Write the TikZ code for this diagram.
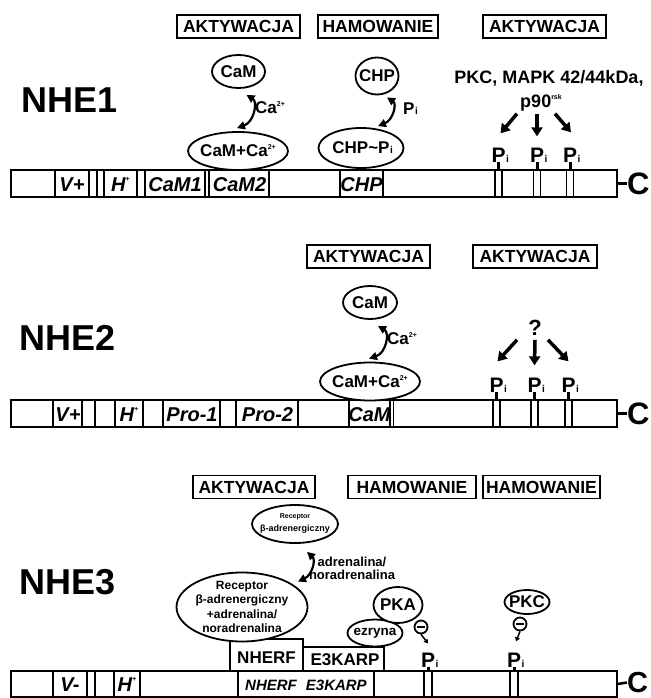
\documentclass[tikz,border=0pt]{standalone}
\usepackage{fontspec}
\setmainfont{Liberation Sans}
\usetikzlibrary{shapes.geometric,arrows.meta,calc}

\newcommand{\fs}[1]{\fontsize{#1}{#1}\selectfont}
% P with a small subscript i, centred on the P
\newcommand{\Psub}{P\rlap{\kern0.6pt\fs{10}i}}
% small raised text (charges, "rsk")
\newcommand{\supr}[2]{\raisebox{#1}{\fs{7}#2}}

\tikzset{
  xtag/.style={draw, line width=1.8pt, minimum height=23pt, inner sep=0pt, font=\fs{17.5}\bfseries},
  xell/.style={ellipse, draw, fill=white, line width=1.8pt, inner sep=0pt, font=\fs{17}\bfseries},
  xtitle/.style={font=\fs{36}\bfseries, inner sep=0pt},
  xbar/.style={draw, line width=2pt, minimum height=27pt, minimum width=606pt, inner sep=0pt},
  xseg/.style={line width=1.8pt},
  xblbl/.style={font=\fs{20}\bfseries\itshape, inner sep=0pt, text height=14.3pt, text depth=0pt},
  xp/.style={font=\fs{21}\bfseries, inner sep=0pt, anchor=base},
  xpin/.style={line width=3pt},
  xfat/.style={line width=3.5pt, -{Triangle[length=9pt,width=11pt]}},
  xdbl/.style={line width=2.2pt, {Triangle[length=8pt,width=8pt]}-{Triangle[length=8pt,width=8pt]}},
  xcterm/.style={font=\fs{31}\bfseries, inner sep=0pt, anchor=west},
  xdash/.style={line width=2.5pt},
  xtxt/.style={font=\fs{17}\bfseries, inner sep=0pt},
  xminus/.style={circle, draw, fill=white, line width=1.8pt, minimum size=13pt, inner sep=0pt},
  xsmall/.style={line width=1.5pt, -{Triangle[length=4pt,width=5pt]}},
}

\begin{document}
\begin{tikzpicture}[x=1pt,y=-1pt]
\fill[white] (0,0) rectangle (650,698);
\useasboundingbox (0,0) rectangle (650,698);

% ================= NHE1 =================
\node[xtitle] (t1) at (70,100) {NHE1};
\node[xtag, minimum width=123pt] (a11) at (238.5,26.5) {AKTYWACJA};
\node[xtag, minimum width=120pt] (h11) at (378,26.5) {HAMOWANIE};
\node[xtag, minimum width=123pt] (a12) at (544.5,26.5) {AKTYWACJA};

% protein bar
\node[xbar] (b1) at (314,183.5) {};
\foreach \x in {55,89,97,104,137,145,205,209,269,340,383,495,502,533.5,540.5,566.5,573.5}
  \draw[xseg] (\x,170) -- (\x,197);
\node[xblbl] (v1) at (72,184) {V+};
\node[xblbl] (hh1) at (120.5,184) {H\smash{\supr{0.5em}{+}}};
\node[xblbl] (cm11) at (175,184) {CaM1};
\node[xblbl] (cm12) at (239.5,184) {CaM2};
\node[xblbl] (ch1) at (361.5,184) {CHP};
\node[xcterm] (c1) at (627,183.5) {C};
\draw[xdash] (b1.east) -- (c1.west);

% calmodulin
\node[xell, minimum width=53pt, minimum height=33pt] (cam1) at (238.5,71.5) {\makebox[0pt]{CaM}};
\node[xell, minimum width=100pt, minimum height=38pt] (cc1) at (238,151) {\makebox[0pt]{CaM+Ca\smash{\supr{0.42em}{2+}}}};
\draw[xdbl] ([xshift=8pt,yshift=-6pt]cam1.south) .. controls (258,102) and (254,122) .. ([xshift=-1pt,yshift=3pt]cc1.north);
\node[xtxt, anchor=west] (ca1) at (255,108) {Ca\supr{0.42em}{2+}};

% CHP
\node[xell, minimum width=43pt, minimum height=37pt] (chp1) at (377,76) {\makebox[0pt]{CHP}};
\node[xell, minimum width=85pt, minimum height=40pt] (cp1) at (361,148) {\makebox[0pt]{CHP\textasciitilde\Psub}};
\draw[xdbl] ([xshift=10pt,yshift=-2pt]chp1.south) .. controls (397,104) and (393,120) .. ([xshift=17pt,yshift=1pt]cp1.north);
\node[xtxt, anchor=west] (pi1) at (403,109) {\Psub};

% kinases
\node[font=\fs{18}\bfseries, inner sep=0pt] (k1) at (549,78) {PKC, MAPK 42/44kDa,};
\node[font=\fs{18}\bfseries, inner sep=0pt] (k2) at (541,103) {p90\supr{0.45em}{rsk}};
\node[xp] (p11) at (498.5,162) {\Psub};
\node[xp] (p12) at (537,162) {\Psub};
\node[xp] (p13) at (570,162) {\Psub};
\draw[xfat] ([xshift=-24pt,yshift=-2pt]k2.south) -- ([xshift=2pt,yshift=14pt]p11.north);
\draw[xfat] ([yshift=-2pt]k2.south -| p12.north) -- ([yshift=11pt]p12.north);
\draw[xfat] ([xshift=14pt,yshift=-2pt]k2.south) -- ([xshift=1pt,yshift=15pt]p13.north);
\foreach \p in {p11,p12,p13}
  \draw[xpin] (\p.base) -- (\p.base |- b1.north);

% ================= NHE2 =================
\node[xtitle] (t2) at (68,338) {NHE2};
\node[xtag, minimum width=123pt] (a21) at (368.5,256.5) {AKTYWACJA};
\node[xtag, minimum width=124pt] (a22) at (535,256.5) {AKTYWACJA};

\node[xbar] (b2) at (314,413.5) {};
\foreach \x in {53,82,95,115,143,163,220,236,298,349,390,393.5,493,500,531,538,565,572}
  \draw[xseg] (\x,400) -- (\x,427);
\node[xblbl] (v2) at (68,414) {V+};
\node[xblbl] (hh2) at (129,414) {H\smash{\supr{0.5em}{+}}};
\node[xblbl] (pr1) at (192,414) {Pro-1};
\node[xblbl] (pr2) at (267.5,414) {Pro-2};
\node[xblbl] (cm2) at (369.5,414) {CaM};
\node[xcterm] (c2) at (627,413.5) {C};
\draw[xdash] (b2.east) -- (c2.west);

\node[xell, minimum width=54pt, minimum height=33pt] (cam2) at (370,302.5) {\makebox[0pt]{CaM}};
\node[xell, minimum width=100pt, minimum height=38pt] (cc2) at (370,381.5) {\makebox[0pt]{CaM+Ca\smash{\supr{0.42em}{2+}}}};
\draw[xdbl] ([xshift=8pt,yshift=-6pt]cam2.south) .. controls (390,333) and (386,353) .. ([xshift=-1pt,yshift=3pt]cc2.north);
\node[xtxt, anchor=west] (ca2) at (387,339) {Ca\supr{0.42em}{2+}};

\node[font=\fs{22}\bfseries, inner sep=0pt] (q2) at (535,328) {?};
\node[xp] (p21) at (496.5,392) {\Psub};
\node[xp] (p22) at (534.5,392) {\Psub};
\node[xp] (p23) at (568.5,392) {\Psub};
\draw[xfat] ([xshift=-18pt,yshift=-4pt]q2.south) -- ([xshift=1pt,yshift=16pt]p21.north);
\draw[xfat] ([yshift=-4pt]q2.south) -- ([yshift=12pt]p22.north);
\draw[xfat] ([xshift=13pt,yshift=-4pt]q2.south) -- ([yshift=16pt]p23.north);
\foreach \p in {p21,p22,p23}
  \draw[xpin] (\p.base) -- (\p.base |- b2.north);

% ================= NHE3 =================
\node[xtitle] (t3) at (68,582) {NHE3};
\node[xtag, minimum width=122pt] (a31) at (254,487) {AKTYWACJA};
\node[xtag, minimum width=128pt] (h31) at (412,487) {HAMOWANIE};
\node[xtag, minimum width=117pt] (h32) at (541.5,487) {HAMOWANIE};

\node[xbar, minimum height=26pt] (b3) at (314,684) {};
\foreach \x in {53,87,95,114,140,238,374,424,432,510,518}
  \draw[xseg] (\x,671) -- (\x,697);
\node[xblbl] (v3) at (70,684.5) {V-};
\node[xblbl] (hh3) at (127,684.5) {H\smash{\supr{0.5em}{+}}};
\node[font=\fs{15}\bfseries\itshape, inner sep=0pt] (ne3) at (306,685) {NHERF\hspace{0.6em}E3KARP};
\node[xcterm, font=\fs{29}\bfseries] (c3) at (627,682.5) {C};
\draw[xdash] (b3.east) -- (c3.west);

% scaffold proteins
\node[draw, line width=1.8pt, minimum width=73pt, minimum height=32pt, inner sep=0pt] (nh) at (266.5,655) {};
\node[xtxt] (nht) at (266.5,658) {NHERF};
\node[draw, line width=1.8pt, minimum width=81pt, minimum height=24pt, inner sep=0pt] (e3) at (343.5,659) {};
\node[xtxt] (e3t) at (345,660) {E3KARP};

% adrenergic receptor
\node[xell, minimum width=86pt, minimum height=38pt] (rec) at (295,524) {};
\node[align=center, inner sep=0pt, font=\bfseries] (rect) at (rec.center) {\fs{7}Receptor\\[1pt]\fs{9}β-adrenergiczny};
\node[xell, minimum width=131pt, minimum height=69pt] (recb) at (242,607) {};
\node[align=center, font=\fontsize{12}{14.5}\selectfont\bfseries, inner sep=0pt] (recbt) at (242,607) {Receptor\\β-adrenergiczny\\+adrenalina/\\noradrenalina};
\draw[xdbl] ([xshift=12pt,yshift=-8pt]rec.south) .. controls (316,560) and (312,575) .. ([xshift=56pt,yshift=-10pt]recb.north);
\node[align=center, font=\fontsize{13}{13}\selectfont\bfseries, inner sep=0pt] (adr) at (352,568) {adrenalina/\\noradrenalina};

% kinases
\node[xell, minimum width=55pt, minimum height=27pt, font=\fs{13.5}\bfseries] (ez) at (375,633) {\makebox[0pt]{ezryna}};
\node[xell, minimum width=49pt, minimum height=36pt, font=\fs{17}\bfseries] (pka) at (398,605) {\makebox[0pt]{PKA}};
\node[xminus] (m1) at (421,627) {};
\draw[line width=2pt] ([xshift=-4pt]m1.center) -- ([xshift=4pt]m1.center);
\node[xp] (p31) at (428,667) {\Psub};
\draw[xsmall] (m1.south) -- ([yshift=9pt]p31.north);
\draw[xpin] (p31.base) -- (p31.base |- b3.north);

\node[xell, minimum width=45pt, minimum height=24pt, font=\fs{17}\bfseries] (pkc) at (527,602) {\makebox[0pt]{PKC}};
\node[xminus] (m2) at (520,624) {};
\draw[line width=2pt] ([xshift=-4pt]m2.center) -- ([xshift=4pt]m2.center);
\node[xp] (p32) at (514,667) {\Psub};
\draw[xsmall] (m2.south) -- ([xshift=2pt,yshift=11pt]p32.north);
\draw[xpin] (p32.base) -- (p32.base |- b3.north);

\end{tikzpicture}
\end{document}
